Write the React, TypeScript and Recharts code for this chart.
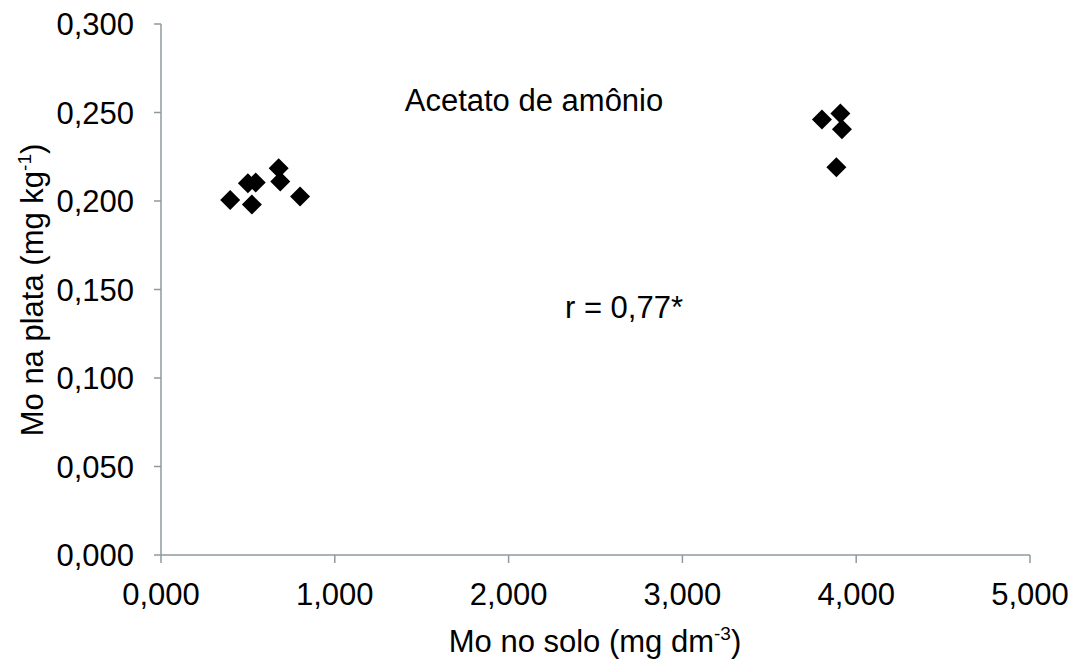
import React from "react";
import { ScatterChart, Scatter, XAxis, YAxis, Customized } from "recharts";

// Mo in soil (mg dm-3) against Mo in plant (mg kg-1), ammonium acetate extraction
const soilMo = [0.398, 0.523, 0.5, 0.545, 0.677, 0.686, 0.8, 3.803, 3.909, 3.918, 3.886];
const plantMo = [0.2006, 0.198, 0.21, 0.2105, 0.2185, 0.211, 0.2025, 0.246, 0.2495, 0.2405, 0.219];

const xTicks = [0, 1, 2, 3, 4, 5];
const yTicks = [0, 0.05, 0.1, 0.15, 0.2, 0.25, 0.3];

const points = soilMo.map((x, i) => ({ x, y: plantMo[i] }));

const FONT = "'Liberation Sans', Arial, sans-serif";
const AXIS_COLOR = "#8e9a9d";
const fmt = (v: number) => v.toFixed(3).replace(".", ",");

const Diamond = (props: any) => {
  const { cx, cy } = props;
  const r = 10;
  return (
    <polygon
      points={`${cx},${cy - r} ${cx + r},${cy} ${cx},${cy + r} ${cx - r},${cy}`}
      fill="#000"
    />
  );
};

const Annotations = () => (
  <g fontFamily={FONT} fill="#000">
    <text x={534} y={111} fontSize={31} textAnchor="middle">
      Acetato de amônio
    </text>
    <text x={624} y={318} fontSize={31} textAnchor="middle">
      r = 0,77*
    </text>
    <text x={595} y={652} fontSize={31} textAnchor="middle">
      Mo no solo (mg dm
      <tspan fontSize={19} dy={-12}>-3</tspan>
      <tspan dy={12}>)</tspan>
    </text>
    <text
      x={43}
      y={290}
      fontSize={31}
      textAnchor="middle"
      transform="rotate(-90, 43, 290)"
    >
      Mo na plata (mg kg
      <tspan fontSize={19} dy={-12}>-1</tspan>
      <tspan dy={12}>)</tspan>
    </text>
  </g>
);

export default function App() {
  return (
    <div style={{ position: "absolute", left: 0, top: 0, background: "#fff" }}>
      <ScatterChart
        width={1082}
        height={666}
        margin={{ top: 24, right: 52, bottom: 0, left: 0 }}
      >
        <XAxis
          type="number"
          dataKey="x"
          domain={[0, 5]}
          ticks={xTicks}
          tickFormatter={fmt}
          height={111}
          tickSize={8}
          tickMargin={20}
          axisLine={{ stroke: AXIS_COLOR, strokeWidth: 1.5 }}
          tickLine={{ stroke: AXIS_COLOR, strokeWidth: 1.5 }}
          tick={{ fill: "#000", fontSize: 31, fontFamily: FONT }}
          interval={0}
        />
        <YAxis
          type="number"
          dataKey="y"
          domain={[0, 0.3]}
          ticks={yTicks}
          tickFormatter={fmt}
          width={161}
          tickSize={7}
          tickMargin={20}
          axisLine={{ stroke: AXIS_COLOR, strokeWidth: 1.5 }}
          tickLine={{ stroke: AXIS_COLOR, strokeWidth: 1.5 }}
          tick={{ fill: "#000", fontSize: 31, fontFamily: FONT }}
          interval={0}
        />
        <Scatter data={points} shape={<Diamond />} isAnimationActive={false} />
        <Customized component={Annotations} />
      </ScatterChart>
    </div>
  );
}
